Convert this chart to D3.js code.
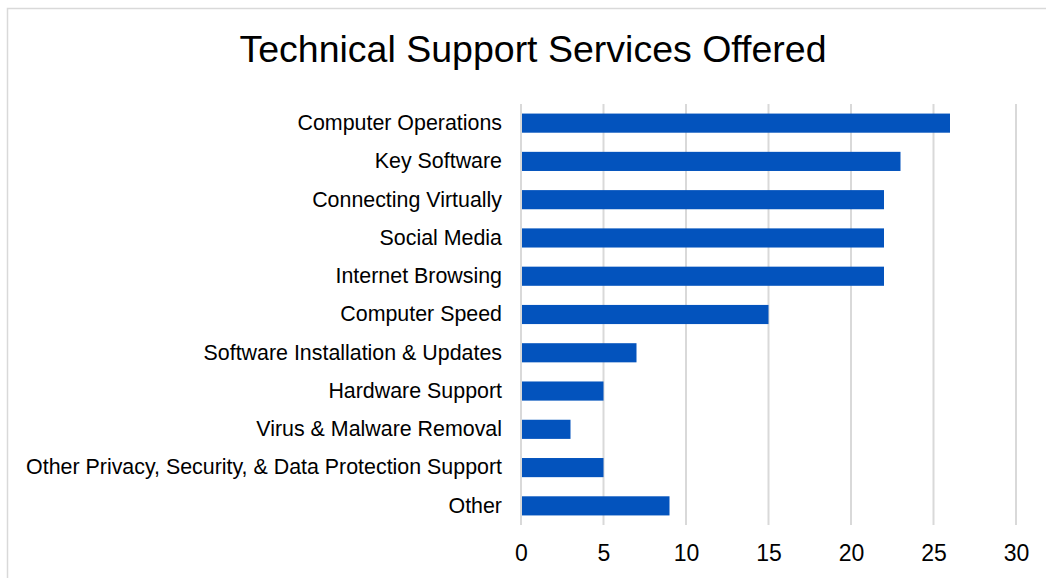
<!DOCTYPE html>
<html><head><meta charset="utf-8">
<script src="https://cdn.jsdelivr.net/npm/d3@7"></script>
<style>
body{margin:0;background:#fff;}
svg{display:block;font-family:"Liberation Sans",Arial,sans-serif;}
</style></head>
<body>
<svg id="c" width="1046" height="578"></svg>
<script>
const categories = ["Computer Operations","Key Software","Connecting Virtually","Social Media","Internet Browsing","Computer Speed","Software Installation & Updates","Hardware Support","Virus & Malware Removal","Other Privacy, Security, & Data Protection Support","Other"];
const values = [26,23,22,22,22,15,7,5,3,5,9];
const tickValues = [0,5,10,15,20,25,30];
const title = "Technical Support Services Offered";

const svg = d3.select("#c");
svg.append("rect").attr("x",7.5).attr("y",8.5).attr("width",1100).attr("height",700)
  .attr("fill","#fff").attr("stroke","#d9d9d9").attr("stroke-width",1.5);

const x = d3.scaleLinear().domain([0,30]).range([521,1016]);
const y = d3.scaleBand().domain(categories).range([104,525]).paddingInner(0.5).paddingOuter(0.25);

svg.append("g").selectAll("line").data(tickValues).join("line")
  .attr("x1",d=>x(d)).attr("x2",d=>x(d)).attr("y1",104).attr("y2",525)
  .attr("stroke","#d9d9d9").attr("stroke-width",2);

svg.append("g").selectAll("rect").data(values).join("rect")
  .attr("x",x(0)+1).attr("y",(d,i)=>y(categories[i]))
  .attr("width",d=>x(d)-x(0)-1).attr("height",y.bandwidth())
  .attr("fill","#0353bd");

const xa = svg.append("g").attr("transform","translate(0,545)")
  .call(d3.axisBottom(x).tickValues(tickValues).tickSize(0).tickPadding(0));
xa.select(".domain").remove();
xa.selectAll("text").attr("font-size",23).attr("fill","#000").attr("font-family","Liberation Sans, Arial, sans-serif").attr("dy","0.71em");

const ya = svg.append("g").attr("transform","translate(502,0)")
  .call(d3.axisLeft(y).tickSize(0).tickPadding(0));
ya.select(".domain").remove();
ya.selectAll("text").attr("font-size",21.4).attr("fill","#000").attr("font-family","Liberation Sans, Arial, sans-serif");

svg.append("text").attr("x",533).attr("y",62).attr("text-anchor","middle")
  .attr("font-size",37.5).attr("fill","#000").text(title);
</script>
</body></html>
